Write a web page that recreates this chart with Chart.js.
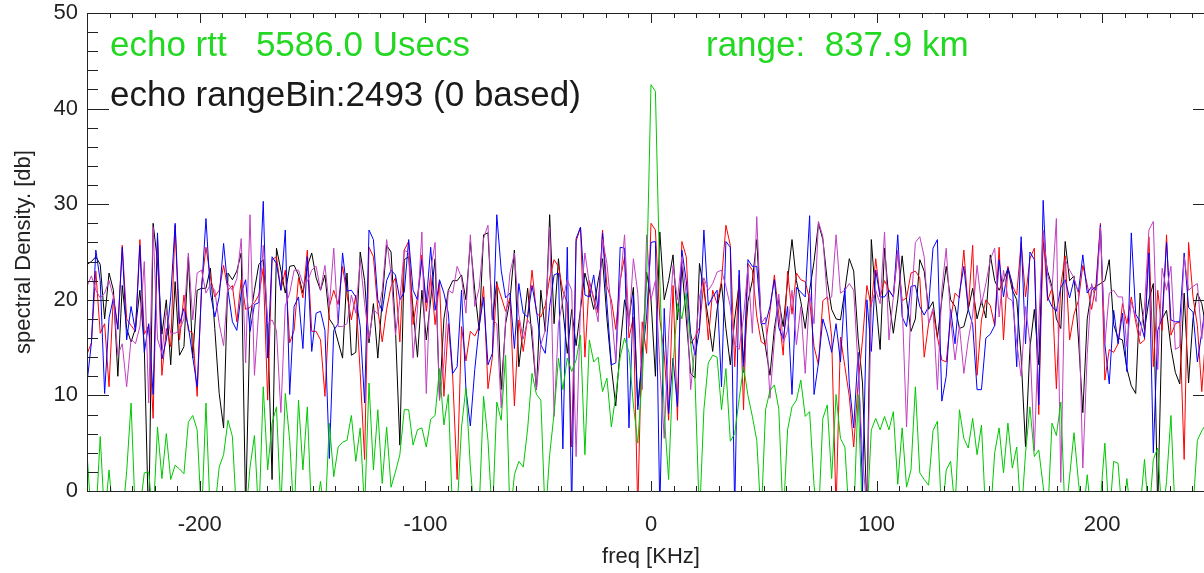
<!DOCTYPE html>
<html>
<head>
<meta charset="utf-8">
<title>echo spectral density</title>
<script src="https://cdn.jsdelivr.net/npm/chart.js@4.4.1/dist/chart.umd.min.js"></script>
<style>
  html, body { margin: 0; padding: 0; background: #fff; overflow: hidden; }
  #wrap { position: relative; width: 1230px; height: 573px; }
</style>
</head>
<body>
<div id="wrap"><canvas id="spec"></canvas></div>
<script>
// 256 fft bins spanning -250 .. +250 KHz
const binWidth = 500 / 256;
const freqStart = -250;

const xTickValues = [-200, -100, 0, 100, 200];
const yTickValues = [0, 10, 20, 30, 40, 50];

// spectral density [db] per bin
const blackDb = [
  23.7, 24, 24.5, 23.7, 18, 22.8, 21, 12, 21.5, 17, 15.6, 17, 21, 15.1, -4, 28,
  24, 16.4, 20, 13.2, 21.9, 14.2, 15.1, 24.5, 13.9, 21, 21.2, 21.2, 23.3, 17, 10.2, 6.6,
  22.8, 22.1, 23, 24.9, -2, 18, 21, 23.7, 24.2, 17.5, 1.2, 25.4, 23.1, 20.7, 23.5, 23.6,
  22.6, 20.7, 23.5, 24.9, 22.3, 21, 22.6, 18, 17.3, 15.6, 13.9, 22.8, 14.2, 14.5, 25, 22,
  15.5, 19.6, 13.9, 20, 25.7, 25, 17, 4.8, 24.2, 24.5, 19, 14, 21, 15.8, 20, 24.3,
  9.5, 18, 21, 22, 22, 22.6, 20, 26, 21, 16.8, 26.8, 27, 17.9, 21.9, 10.6, 17.5,
  20, 25.2, 13, 17, 21.2, 16, 10.6, 21, 16.7, 28.9, 17.5, 24.3, 19, 14.4, 19, 15.2,
  19, 22.8, 21, 19, 22, 24.3, 18, 13, 8.9, 15, 20, 18, 21.3, 8.9, 14, 22.9,
  20, 12, 27.1, 20, 22, 24.7, 17.9, 23.5, 18, 12.3, 11.8, 23.8, 21, 18, 14.6, 19,
  21.7, 17, 13.2, 18, 21.7, 13.4, 19.8, 22, 26.3, 17.7, 15, 12.1, 17, 20, 17.2, 22,
  26.3, 22, 19.8, 17, 21, 24, 28, 26.3, 22, 19, 18, 17.9, 21, 24.3, 23, 16,
  11.3, -2, 26.3, 20, 14.8, 25.4, 20, 16.5, 20, 24.6, 20, 16.7, 18, 24.2, 23, 19,
  19.8, 16, 20, 23.5, 20, 19.3, 17, 17.2, 19, 21.2, 18, 19.9, 18.1, 24.7, 22, 21,
  22, 23.3, 21, 20, 14, 4.6, 15, 19, 13.2, 26, 23, 21.4, 18, 17, 26.1, 22,
  22.5, 16, 8.2, 18, 21, 21.4, 21.7, 22, 24.2, 17.4, 16, 15.8, 12.8, 11, 10.2, 20.7,
  16.8, 20, 21.7, -2, 18, 18.9, 15, 12.4, 11.2, 20.7, 11.3, 18, 20.7, 19.6, 17, 19
];

const redDb = [
  14.3, 15.5, 23, 16.5, 17.5, 10.9, 20.5, 17, 25.7, 18, 17.3, 16.7, 26.3, 16.4, 17.3, 7.6,
  26.5, 12.1, 17, 15.1, 27.8, 15.8, 20.5, 16.8, 16.5, 9.9, 21.5, 25.5, 22.4, 20.3, 21, 23.6,
  21, 21.5, 17.7, 22.1, 19, 19.2, 19.7, 20.5, 23.3, 9.5, 24.2, 24.5, 21, 23.1, 15.5, 16.8,
  22.3, 20.2, 25.2, 16.7, 16.7, 15.8, 9.9, 19.3, 21, 19.5, 23.5, 20.5, 17.9, 20.5, 12.4, 3.3,
  25.5, 24.5, 19, 15.6, 19, 21.4, 22.3, 15.6, 25.2, 26.1, 17.4, 20.3, 24.7, 18.8, 22.6, 17.4,
  21.9, 9.9, 17.5, 11.9, 1.2, 17.2, 13.6, 16.7, 16.2, 17.2, 21.4, 10.7, 14, 21.7, 20.3, 18.8,
  20.2, 8.9, 17.9, 14.6, 18.2, 23.1, 18.6, 18.2, 19.4, 22.3, 24.2, 23.5, 20.9, 19.7, 4.6, 26.1,
  27.6, 14, 22, 20.2, 18.6, 27.3, 21.4, 20, 16.9, 22, 24.5, 16, 18.2, -2, 17.7, 14.4,
  28, 27.3, 18, 14.3, 7.4, 21.5, 7.4, 26.1, 24.5, 15.4, 16.1, 17.1, 21.9, 15.8, 21, 19.6,
  22, 27.8, 25.7, 13, 22.6, 8.5, 23.8, 23.1, 18.3, 15.6, 15.3, 18.8, 22.6, 18.5, 14.2, 23,
  18.5, 22.8, 22.1, 21.9, 20, 15.1, 13.2, 19.9, 20.3, 16.1, -2, 16.1, 13, 9.9, 4.6, 11.3,
  15.8, 21.5, 19.3, 24.3, 20.3, 22, 21, 20.3, 25, 19.9, 20.2, 22.8, 23, 22.3, 14, 17.5,
  18.8, 16.1, 13.7, 13.5, 18, 20.7, 20.2, 25.2, 19, 25.7, 12.1, 17.9, 20, 19.4, 17.3, 25.5,
  15.8, 23.5, 21.5, 20.5, 26, 20.3, 24.3, 25.4, 8, 27, 19.9, 21.2, 10.7, 21.5, 24.6, 15.8,
  18.5, 19.9, 23.6, 21.6, 19, 21.7, 28, 11.6, 14.8, 14.5, 15.4, 19.6, 17.5, 20.3, 17.7, 15.4,
  15.8, 26.6, 13, 21, 16.8, 26.8, 16.3, 17.5, 17.7, 3.3, 26, 20.3, 17.3, 10.4, 17, 15
];

const blueDb = [
  11.3, 15.5, 25.2, 22, 10.2, 18.1, 20.2, 16.9, 25.5, 15.8, 19.3, 16.7, 25.7, 14.5, 17.5, 10.1,
  27, 13.8, 15.8, 20.3, 28, 17.5, 19.1, 17.2, 14, 10.9, 21, 28.5, 20.7, 18.2, 20.3, 25.9,
  21, 17.7, 16.8, 20.7, 22.1, 16.7, 19.5, 19.7, 30.3, 13.9, 24.5, 23.8, 21, 27.3, 10.1, 19.3,
  20.3, 14.9, 24.5, 14.6, 18.6, 18.8, 16.8, 3.4, 16.8, 17.5, 24.9, 20.9, 21, 20.3, 17.2, 9.2,
  27.3, 26.3, 20, 18.8, 22, 23.1, 22.6, 20, 20.8, 26.3, 21, 20, 24.2, 19.7, 25.5, 18.9,
  22.1, 20.7, 18.6, 12.3, 13, 21, 10.6, 6.8, 12.7, 17.2, 20.3, 13.2, 14.4, 28.9, 23.1, 20.2,
  20.7, 14.9, 21.7, 18.6, 18.2, 21.5, 18.9, 15.3, 14.4, 19.3, 22.6, 22.8, 4.4, 25.5, -2, 26.4,
  27.6, 20.5, 20.3, 22.6, 18.9, 27, 19.6, 13.2, 13.4, 25.5, 25.4, 6.6, 20.5, 8.5, 14, 18.2,
  26, 26.1, -2, 19.1, 8.1, 13.9, 8.8, 25.2, 22, 16.5, 14.2, 16.8, 27.3, 19.4, 20.3, 21,
  10.9, 26.1, 25.5, -2, 23.1, 12.4, 24.2, 23.5, 23.5, 17.5, 17.5, 19.3, 22.1, 17.1, 15.9, 19.3,
  10.1, 21.3, 20.8, 20.3, 28.8, 10.1, 13.4, 18, 16.5, 14.5, 17.5, 13.5, 21.2, 11.2, 6.6, 14.5,
  0, 20, 14.6, 23.1, 20.3, 20.3, 21, 20.3, 26.8, 18.2, 17.2, 21.4, 21.5, 19.3, 18.4, 19.3,
  25.4, 26.3, 9.4, 12, 19, 15.4, 20.7, 23.5, 19, 17.4, 10.6, 10.6, 16, 16.4, 17.3, 24.2,
  20.3, 23.3, 21.7, 13, 26.6, 15.4, 25, 24.2, 9, 30.4, 20.3, 19.3, 18.8, 21.3, 22.1, 20.2,
  22.1, 20.8, 24.7, 20.7, 21.4, 21, 27.8, 15.4, 11.2, 18.9, 15.4, 18.6, 12.5, 27, 18.5, 17.7,
  16, 24.9, 4, 16.8, 18.1, 26, 17.9, 17.7, 17.7, 24.9, 19.2, 18.7, 13.5, 16.6, 20, 16
];

const magentaDb = [
  21.4, 22.5, 21, 20.2, 20.7, 22, 20.3, 14.2, 15.4, 10.9, 15.9, 15.4, 17.2, 24, 9.2, 27.6,
  15.9, 14.4, 18.9, 16.5, 16.5, 16.8, 18, 24.9, 17.9, 22.8, 23.1, 20.7, 21.6, 21, 17.5, 15.2,
  21.7, 21, 22.2, 26.4, 13.4, 28.9, 12.1, 19.1, 25.7, 17.5, 17.9, 16.8, 8.2, 19.4, 20.7, 23.1,
  23.1, 21.7, 21.9, 23.1, 23.5, 21, 23.6, 19.3, 25.4, 17.2, 17.2, 17.5, 20.5, 18.6, 24.2, 19.6,
  15.9, 19, 18.5, 21, 26.3, 22.8, 16.3, 20, 25.2, 24.9, 13.9, 19, 27.1, 10.2, 23.1, 26,
  9.5, 13.4, 21, 20.7, 23.5, 22.3, 18.6, 26.8, 19.3, 21.2, 26.4, 27.8, 17.9, 17.5, 8.7, 17.9,
  22.8, 24.9, 18.4, 15.9, 17.9, 17.2, 10.6, 15.3, 16.8, 27.6, 7.8, 17.5, 20, 22.1, 21, 3.6,
  19.5, 24.9, 21.7, 20, 17.7, 26.3, 23.8, 18.9, 13.5, 21.7, 26.8, 17.2, 24.3, 20.7, 10.6, 26.8,
  20, 22, 13, 5.5, 16.4, 23.6, 20, 24.5, 20.5, 10.6, 15.3, 20.3, 22.3, 21, 21.7, 22.9,
  23.1, 21.4, 19.3, 15.3, 14.8, 18.2, 23.4, 16.5, 28.7, 17.5, 18.2, 9.7, 15.8, 20.6, 15.5, 16.8,
  21, 15.3, 19.3, 12.3, 20.7, 17.5, 28.2, 26.6, 20, 20.3, 26.8, 20.7, 21, 21.7, 21, 13,
  3.6, -2, 19.6, 21, 19.6, 27.1, 15.8, 20.3, 25.2, 19.6, 6.7, 19.3, 26, 26.6, 24.5, 17.5,
  19.1, 10.6, 21, 25.4, 18, 13.7, 17.3, 12.3, 15.8, 18.4, 23.6, 19.5, 21.7, 24.2, 25.4, 18.2,
  23.1, 20.2, 19.9, 15.5, 12, 19.3, 15.5, 4.2, 17.5, 27.3, 22.6, 21, 28.5, 0.9, 24.2, 23.1,
  22.3, 20.7, 2.4, 14.3, 21.7, 19.8, 27.6, 15.4, 20.7, 21, 20.3, 20.3, 15.1, 19.8, 18.2, 16.2,
  19.3, 27.3, 28.2, 12.7, 23.3, 21, 23.5, 14.8, 15.1, 24.5, 21, 21.4, 21.7, 15.9, 20, 18
];

// echo channel (green), with the echo at 0 KHz
const greenDb = [
  4, -3, -3, 5.7, -3, 2.2, -3, -4, -3, 2, 9.2, -3, -2, 1.9, 2, -3,
  6.7, 1.3, 6, 1.2, 2.7, 2.3, 1.8, 7.2, 7.9, 6.4, -3, 9.2, -3, -2, 2.5, 3.8,
  7.4, 5.7, -3, -2, -3, 2.5, 5.8, -3, 10.9, 2.2, 7.1, 8.8, -2, 10.2, 5.3, -3,
  9.5, 2.2, 8.8, -3, -2, 1, -3, 7.1, 1.5, 4.6, 5.1, 5.3, 7.9, 3.1, 6.6, -2,
  11.3, 2.2, 8.5, 0.8, 6.7, 0.4, 2, 3.8, 8.5, 8.5, 4.8, 6.4, 6.6, 4.6, 7.5, 7.9,
  12.8, 6.9, 10.1, -3, -2, 6.7, 10.8, 2.5, -3, -2, 9.9, 5.3, -3, 9.3, 7.4, 14.2,
  -3, 1.7, 3.1, 2.5, 6.5, 12.3, 10.1, 9.5, -3, 3.8, 8.1, 13.9, 10.6, 13.9, 12.5, 13.7,
  16.3, 3.8, 15.8, 13.5, 14, 10.4, 11.8, 6.7, 10, 14, 16, 14.5, 9, 5, 12, 22,
  42.5, 41.8, 22, 8, 1.2, 13, 19.6, 18, 20.7, 15.5, 11.5, -3, 8.5, 13.4, 14.2, 14,
  8.5, 12.8, 5.2, 6, 9.6, 13, 10, 7.8, 5.3, -3, 8.5, 10.5, 11.1, 8.6, -3, 6.4,
  8.8, 9.5, 11.6, 7.8, 8.3, 0.6, -3, 7.6, 9, 1.3, 10.1, 5.5, 4.6, -3, -3, 10.1,
  -3, -3, 6.4, 7.6, 6.4, 7.8, 6.4, 8.3, 0.7, 6.6, 0.4, 2.2, 10.9, 1.9, 1.2, 0.6,
  6.3, 7.3, -3, 2.2, 3.1, -2, 8.5, 5.5, 4.5, 7.6, 3.8, 6.9, -3, -3, 4, 6.6,
  1.9, 7.1, 2.4, 4.6, -3, 4, 8.8, 3.6, 4.3, 0.5, -3, 7.1, 5.8, 9.3, -3, 1.5,
  6.1, 1, -3, 1.7, -3, -2, -1, 5, -3, 3.1, 2.9, -3, 1.3, -3, -3, -2,
  3.3, -3, 3.3, 4.5, -3, 1, 7.9, -3, -3, -3, -3, -2, 5.3, 6.3, 7, 8
];

const FONT = '"Liberation Sans", Arial, Helvetica, sans-serif';

// bins -> {x, y} points
function toPoints(values) {
  return values.map((v, i) => ({ x: freqStart + i * binWidth, y: v }));
}

function series(values, color, order) {
  return {
    data: toPoints(values),
    borderColor: color,
    borderWidth: 1,
    pointRadius: 0,
    tension: 0,
    fill: false,
    clip: 0,
    order: order
  };
}

// IDL style box: inward ticks on all four sides + text annotations
const idlFrame = {
  id: 'idlFrame',
  afterDatasetsDraw(chart) {
    const { ctx, chartArea: a, scales } = chart;
    const x = scales.x, y = scales.y;
    ctx.save();
    ctx.strokeStyle = '#222';
    ctx.lineWidth = 1;
    ctx.beginPath();
    ctx.rect(a.left + 0.5, a.top + 0.5, a.right - a.left, a.bottom - a.top);
    for (let v = -250; v <= 250; v += 10) {
      const px = Math.round(x.getPixelForValue(v)) + 0.5;
      const len = v % 100 === 0 ? 10 : 5;
      ctx.moveTo(px, a.bottom);
      ctx.lineTo(px, a.bottom - len);
      ctx.moveTo(px, a.top);
      ctx.lineTo(px, a.top + len);
    }
    for (let v = 0; v <= 50; v += 2) {
      const py = Math.round(y.getPixelForValue(v)) + 0.5;
      const len = v % 10 === 0 ? 22 : 11;
      ctx.moveTo(a.left, py);
      ctx.lineTo(a.left + len, py);
      ctx.moveTo(a.right, py);
      ctx.lineTo(a.right - len, py);
    }
    ctx.stroke();

    ctx.font = '35px ' + FONT;
    ctx.textBaseline = 'alphabetic';
    ctx.textAlign = 'left';
    ctx.fillStyle = '#22d822';
    ctx.fillText('echo rtt   5586.0 Usecs', 110, 56);
    ctx.fillText('range:  837.9 km', 706, 56);
    ctx.fillStyle = '#1a1a1a';
    ctx.fillText('echo rangeBin:2493 (0 based)', 110, 106);
    ctx.restore();
  }
};

const chart = new Chart(document.getElementById('spec'), {
  type: 'line',
  data: {
    datasets: [
      series(greenDb, '#00c800', 0),
      series(magentaDb, '#c040c0', 1),
      series(blueDb, '#0000ff', 2),
      series(redDb, '#ff0000', 3),
      series(blackDb, '#000000', 4)
    ]
  },
  options: {
    responsive: true,
    maintainAspectRatio: false,
    animation: false,
    events: [],
    layout: { padding: { top: 13, right: 15, left: 0, bottom: 0 } },
    plugins: {
      legend: { display: false },
      tooltip: { enabled: false }
    },
    scales: {
      x: {
        type: 'linear',
        min: -250,
        max: 250,
        grid: { display: false, drawTicks: false },
        border: { display: false },
        ticks: {
          color: '#222',
          padding: 21,
          maxRotation: 0,
          font: { family: FONT, size: 22 }
        },
        title: {
          display: true,
          text: 'freq [KHz]',
          color: '#222',
          padding: { top: 0, bottom: 3 },
          font: { family: FONT, size: 22 }
        },
        afterBuildTicks(axis) {
          axis.ticks = xTickValues.map(v => ({ value: v }));
        },
        afterFit(axis) {
          axis.height = 82;
          axis.paddingLeft = 0;
          axis.paddingRight = 0;
        }
      },
      y: {
        type: 'linear',
        min: 0,
        max: 50,
        grid: { display: false, drawTicks: false },
        border: { display: false },
        ticks: {
          color: '#222',
          padding: 9,
          font: { family: FONT, size: 22 }
        },
        title: {
          display: true,
          text: 'spectral Density. [db]',
          color: '#222',
          padding: { top: 11, bottom: 0 },
          font: { family: FONT, size: 22 }
        },
        afterBuildTicks(axis) {
          axis.ticks = yTickValues.map(v => ({ value: v }));
        },
        afterFit(axis) {
          axis.width = 87;
          axis.paddingTop = 0;
          axis.paddingBottom = 0;
        }
      }
    }
  },
  plugins: [idlFrame]
});
</script>
</body>
</html>
